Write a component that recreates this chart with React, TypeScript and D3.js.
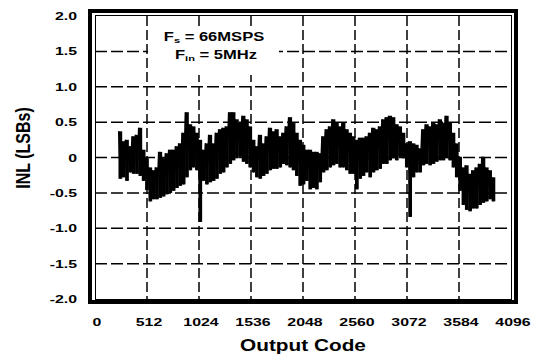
import React from "react";
import * as d3 from "d3";

// X axis ticks (output code) and Y axis ticks (INL, LSBs)
const xTicks = [0, 512, 1024, 1536, 2048, 2560, 3072, 3584, 4096];
const yTicks = [2.0, 1.5, 1.0, 0.5, 0, -0.5, -1.0, -1.5, -2.0];
const yTickLabels = ["2.0", "1.5", "1.0", "0.5", "0", "-0.5", "-1.0", "-1.5", "-2.0"];

// INL trace sampled on a regular code grid: upper and lower excursion per sample
const codeStart = 233;
const codeStep = 32.8;
const inlHigh = [
  0.37, 0.23, 0.25, 0.16, 0.3, 0.32, 0.42, 0.11, -0.01, -0.14, -0.18, -0.14, 0.08, -0.01, 0.06, 0.11, 0.11, 0.16, 0.2, 0.35,
  0.64, 0.47, 0.44, 0.35, 0.25, 0.11, 0.2, 0.32, 0.2, 0.35, 0.4, 0.42, 0.44, 0.64, 0.64, 0.54, 0.49,
  0.59, 0.54, 0.44, 0.25, 0.16, 0.32, 0.2, 0.3, 0.42, 0.37, 0.4, 0.3, 0.35, 0.44, 0.57, 0.49, 0.35, 0.25, 0.18, 0.11,
  0.11, 0.08, 0.08, 0.06, 0.3, 0.4, 0.44, 0.54, 0.49, 0.44, 0.49, 0.4, 0.35, 0.3, 0.25, 0.28, 0.28, 0.3,
  0.35, 0.42, 0.4, 0.44, 0.54, 0.57, 0.59, 0.57, 0.47, 0.44, 0.35, 0.2, 0.23, 0.2, 0.18, 0.13, 0.4, 0.47, 0.44, 0.49,
  0.47, 0.54, 0.49, 0.59, 0.49, 0.35, 0.2, 0.01, -0.14, -0.11, -0.23, -0.18, -0.14, -0.09, 0.01, -0.14, -0.18, -0.28,
];
const inlLow = [
  -0.3, -0.28, -0.33, -0.21, -0.23, -0.23, -0.26, -0.33, -0.46, -0.62, -0.59, -0.59, -0.57, -0.55, -0.52, -0.5, -0.47, -0.43, -0.4, -0.38,
  -0.28, -0.18, -0.14, -0.18, -0.91, -0.33, -0.38, -0.35, -0.33, -0.3, -0.23, -0.21, -0.14, -0.09, -0.04, -0.01, 0.01,
  -0.06, -0.09, -0.14, -0.21, -0.28, -0.3, -0.26, -0.23, -0.18, -0.16, -0.16, -0.14, -0.09, -0.11, -0.14, -0.18, -0.26, -0.4, -0.38, -0.33,
  -0.45, -0.43, -0.45, -0.35, -0.21, -0.18, -0.14, -0.11, -0.09, -0.14, -0.14, -0.18, -0.23, -0.23, -0.45, -0.3, -0.26, -0.21,
  -0.28, -0.21, -0.18, -0.16, -0.09, -0.09, -0.04, -0.01, -0.04, 0.01, -0.01, -0.14, -0.84, -0.28, -0.21, -0.21, -0.11, -0.09, -0.11, -0.09,
  -0.06, -0.04, -0.04, -0.01, -0.04, -0.14, -0.28, -0.47, -0.67, -0.74, -0.76, -0.72, -0.72, -0.67, -0.64, -0.62, -0.59, -0.62,
];

const W = 537;
const H = 356;
const FONT = "'Liberation Sans', Arial, Helvetica, sans-serif";
const SX = 1.38; // horizontal stretch of the text in the reference

export default function App() {
  const x = d3.scaleLinear().domain([0, 4096]).range([95, 511]);
  const y = d3.scaleLinear().domain([-2, 2]).range([299, 16]);

  const pts: [number, number][] = [];
  inlHigh.forEach((h, i) => {
    const c = codeStart + i * codeStep;
    pts.push([c, h]);
    pts.push([c + codeStep / 2, inlLow[i]]);
  });
  const line = d3
    .line<[number, number]>()
    .x((d) => x(d[0]))
    .y((d) => y(d[1]));

  const gridX = xTicks.slice(1, -1);
  const gridY = yTicks.slice(1, -1);
  const bw = x(codeStep) - x(0);

  return (
    <svg
      width={W}
      height={H}
      style={{ position: "absolute", left: 0, top: 0, background: "#fff" }}
      fontFamily={FONT}
    >
      <rect x={0} y={0} width={W} height={H} fill="#fff" />
      {/* grid */}
      {gridX.map((t) => (
        <line key={"gx" + t} x1={x(t)} x2={x(t)} y1={y(2)} y2={y(-2)} stroke="#000" strokeWidth={1.5} strokeDasharray="10,4" />
      ))}
      {gridY.map((t) => (
        <line key={"gy" + t} x1={x(0)} x2={x(4096)} y1={y(t)} y2={y(t)} stroke="#000" strokeWidth={1.5} strokeDasharray="12,4" />
      ))}
      {/* annotation box */}
      <rect x={148} y={27} width={131} height={48} fill="#fff" />
      <text transform={`translate(214,41) scale(${SX},1)`} textAnchor="middle" fontSize={12} fontWeight="bold" fill="#000">
        F<tspan fontSize={8} dy={2}>s</tspan>
        <tspan dy={-2}> = 66MSPS</tspan>
      </text>
      <text transform={`translate(216,59) scale(${SX},1)`} textAnchor="middle" fontSize={12} fontWeight="bold" fill="#000">
        F<tspan fontSize={8} dy={2}>in</tspan>
        <tspan dy={-2}> = 5MHz</tspan>
      </text>
      {/* trace: per-sample excursion bands plus the zigzag trace */}
      {inlHigh.map((h, i) => {
        const c = codeStart + i * codeStep;
        return (
          <rect
            key={"b" + i}
            x={x(c) - 0.2}
            y={y(h)}
            width={bw + 0.4}
            height={y(inlLow[i]) - y(h)}
            fill="#000"
          />
        );
      })}
      <path d={line(pts) || ""} fill="none" stroke="#000" strokeWidth={1.4} />
      {/* frame */}
      <rect x={95.5} y={15.5} width={416} height={284} fill="none" stroke="#000" strokeWidth={1} />
      <rect x={90} y={11} width={426} height={291} fill="none" stroke="#000" strokeWidth={4} />
      {/* y tick labels */}
      {yTicks.map((t, i) => (
        <text key={"yl" + t} transform={`translate(77,${y(t) + 4}) scale(${SX},1)`} textAnchor="end" fontSize={11.5} fontWeight="bold" fill="#000">
          {yTickLabels[i]}
        </text>
      ))}
      {/* x tick labels */}
      {xTicks.map((t) => (
        <text key={"xl" + t} transform={`translate(${x(t) + 2},326) scale(${SX},1)`} textAnchor="middle" fontSize={11.5} fontWeight="bold" fill="#000">
          {t}
        </text>
      ))}
      {/* axis titles */}
      <text transform={`translate(303,351) scale(1.3,1)`} textAnchor="middle" fontSize={16} fontWeight="bold" fill="#000">
        Output Code
      </text>
      <text transform={`translate(30,148) scale(1.3,1) rotate(-90)`} textAnchor="middle" fontSize={16} fontWeight="bold" fill="#000">
        INL (LSBs)
      </text>
    </svg>
  );
}
